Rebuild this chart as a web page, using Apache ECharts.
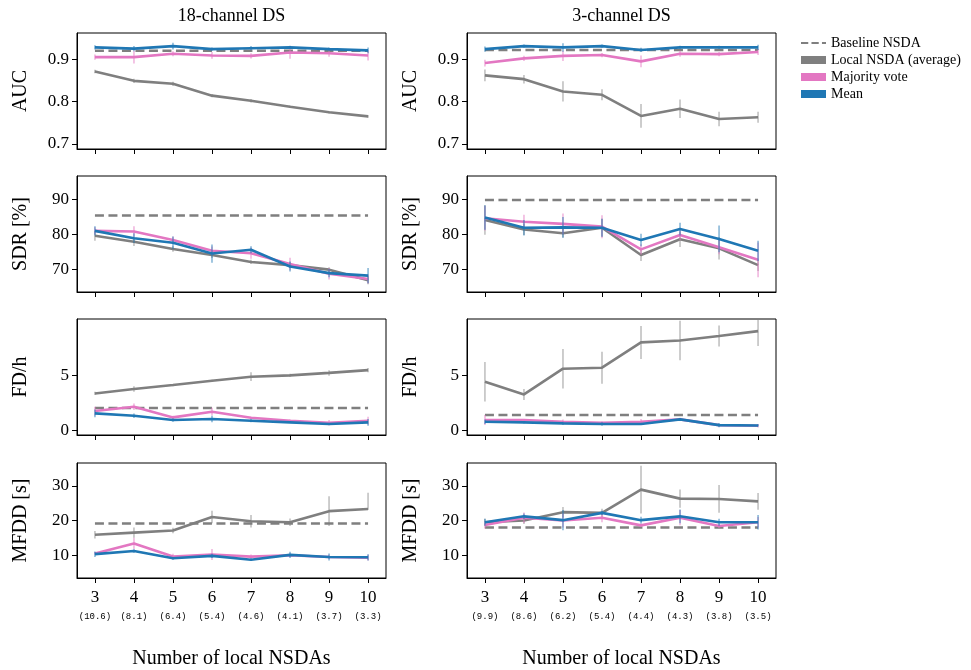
<!DOCTYPE html>
<html>
<head>
<meta charset="utf-8">
<script src="https://cdn.jsdelivr.net/npm/echarts@6/dist/echarts.min.js"></script>
<style>
  html, body { margin: 0; padding: 0; background: #fff; }
  #chart { width: 971px; height: 670px; }
</style>
</head>
<body>
<div id="chart"></div>
<script>
// ---- x categories: number of local NSDAs, with average channels per NSDA ----
const nLocal = [3, 4, 5, 6, 7, 8, 9, 10];
const sub18 = ['(10.6)', '(8.1)', '(6.4)', '(5.4)', '(4.6)', '(4.1)', '(3.7)', '(3.3)'];
const sub3 = ['(9.9)', '(8.6)', '(6.2)', '(5.4)', '(4.4)', '(4.3)', '(3.8)', '(3.5)'];

// Error values are symmetric unless given as [below, above].

// ---- AUC ----
const auc18Baseline = 0.920;
const auc18Local = [0.871, 0.849, 0.842, 0.814, 0.802, 0.788, 0.775, 0.765];
const auc18LocalErr = [0.004, 0.005, 0.005, 0.004, 0.004, 0.003, 0.003, 0.003];
const auc18Vote = [0.905, 0.905, 0.913, 0.909, 0.908, 0.916, 0.914, 0.909];
const auc18VoteErr = [0.006, 0.015, 0.006, 0.008, 0.006, 0.015, 0.008, 0.012];
const auc18Mean = [0.928, 0.925, 0.931, 0.924, 0.926, 0.928, 0.924, 0.921];
const auc18MeanErr = [0.005, 0.006, 0.008, 0.004, 0.005, 0.004, 0.004, 0.007];

const auc3Baseline = 0.922;
const auc3Local = [0.862, 0.853, 0.824, 0.816, 0.766, 0.783, 0.759, 0.763];
const auc3LocalErr = [0.014, 0.010, 0.024, 0.013, 0.028, 0.022, 0.017, 0.013];
const auc3Vote = [0.891, 0.902, 0.908, 0.910, 0.895, 0.913, 0.912, 0.917];
const auc3VoteErr = [0.008, 0.006, 0.012, 0.005, 0.014, 0.007, 0.005, 0.007];
const auc3Mean = [0.924, 0.931, 0.928, 0.931, 0.922, 0.928, 0.928, 0.928];
const auc3MeanErr = [0.006, 0.004, 0.010, 0.004, 0.005, 0.004, 0.004, 0.006];

// ---- SDR [%] ----
const sdr18Baseline = 85.4;
const sdr18Local = [79.6, 77.9, 75.8, 74.1, 72.1, 71.2, 69.9, 66.9];
const sdr18LocalErr = [1.4, 1.2, 0.8, 0.9, 0.6, 0.8, 0.7, 1.2];
const sdr18Vote = [81.0, 80.8, 78.4, 75.3, 74.6, 71.5, 68.7, 67.2];
const sdr18VoteErr = [1.0, 1.5, 1.0, 1.2, 1.6, 1.8, 1.6, 1.3];
const sdr18Mean = [81.0, 78.9, 77.6, 74.5, 75.6, 70.8, 68.9, 68.2];
const sdr18MeanErr = [1.3, 1.4, 1.8, 2.6, 1.0, 1.4, 1.2, 2.2];

const sdr3Baseline = 89.8;
const sdr3Local = [84.1, 81.4, 80.3, 81.9, 74.1, 78.6, 76.0, 71.2];
const sdr3LocalErr = [4.2, 1.6, 1.2, 2.6, 1.7, 2.2, 3.2, 1.7];
const sdr3Vote = [84.6, 83.6, 83.0, 82.2, 75.7, 79.8, 76.3, 72.7];
const sdr3VoteErr = [3.5, 2.0, 3.0, 3.3, 1.5, 1.5, 2.0, 5.0];
const sdr3Mean = [84.8, 81.9, 82.0, 81.9, 78.4, 81.5, 78.7, 75.3];
const sdr3MeanErr = [3.5, 2.2, 3.0, 2.6, 1.8, 1.8, 3.8, 2.9];

// ---- FD/h ----
const fd18Baseline = 2.0;
const fd18Local = [3.33, 3.73, 4.09, 4.48, 4.85, 4.97, 5.20, 5.45];
const fd18LocalErr = [0.15, 0.25, 0.10, 0.10, 0.40, 0.15, 0.25, 0.20];
const fd18Vote = [1.73, 2.12, 1.15, 1.67, 1.12, 0.85, 0.67, 0.85];
const fd18VoteErr = [0.40, 0.30, 0.15, 0.35, 0.10, 0.10, 0.25, 0.35];
const fd18Mean = [1.52, 1.30, 0.91, 1.00, 0.85, 0.70, 0.55, 0.70];
const fd18MeanErr = [0.35, 0.20, 0.15, 0.30, 0.15, 0.05, 0.10, 0.30];

const fd3Baseline = 1.36;
const fd3Local = [4.39, 3.24, 5.58, 5.67, 7.97, 8.15, 8.55, 9.00];
const fd3LocalErr = [1.80, 0.50, 1.80, 1.45, 1.50, 1.80, 0.95, 1.35];
const fd3Vote = [0.91, 0.91, 0.76, 0.67, 0.76, 0.97, 0.45, 0.39];
const fd3VoteErr = [0.45, 0.10, 0.20, 0.10, 0.25, 0.15, 0.10, 0.15];
const fd3Mean = [0.76, 0.70, 0.61, 0.55, 0.55, 0.97, 0.45, 0.42];
const fd3MeanErr = [0.20, 0.10, 0.15, 0.15, 0.10, 0.10, 0.20, 0.10];

// ---- MFDD [s] ----
const mfdd18Baseline = 19.1;
const mfdd18Local = [15.9, 16.5, 17.1, 21.0, 19.8, 19.5, 22.7, 23.3];
const mfdd18LocalErr = [1.1, 1.5, 0.8, 1.8, 1.8, 1.1, 4.3, [0.2, 4.7]];
const mfdd18Vote = [10.5, 13.4, 9.6, 10.2, 9.6, 10.0, 9.5, 9.3];
const mfdd18VoteErr = [0.4, 1.6, 0.8, 1.6, 0.6, 0.5, 0.6, 0.8];
const mfdd18Mean = [10.3, 11.2, 9.1, 9.8, 8.7, 10.1, 9.5, 9.4];
const mfdd18MeanErr = [0.8, 0.5, 0.4, 0.6, 0.4, 0.9, 1.0, 0.9];

const mfdd3Baseline = 18.0;
const mfdd3Local = [19.5, 20.0, 22.4, 22.2, 28.9, 26.3, 26.2, 25.5];
const mfdd3LocalErr = [1.0, 1.0, 1.5, 1.2, 6.9, 2.6, 4.0, 2.4];
const mfdd3Vote = [18.7, 20.8, 20.0, 20.8, 18.6, 20.8, 18.4, 19.5];
const mfdd3VoteErr = [1.0, 1.5, 2.0, 1.3, 0.5, 2.2, 0.6, 1.5];
const mfdd3Mean = [19.5, 21.2, 20.1, 22.2, 20.1, 21.2, 19.5, 19.5];
const mfdd3MeanErr = [1.0, 0.8, 2.9, 0.6, 1.0, 2.0, 1.0, 2.1];

// ---- labels ----
const columnTitles = ['18-channel DS', '3-channel DS'];
const rowNames = ['AUC', 'SDR [%]', 'FD/h', 'MFDD [s]'];
const rowTicks = [[0.7, 0.8, 0.9], [70, 80, 90], [0, 5], [10, 20, 30]];
const xName = 'Number of local NSDAs';
const seriesNames = ['Baseline NSDA', 'Local NSDA (average)', 'Majority vote', 'Mean'];

// panel table: [row][col]
const panels = [
  [
    { base: auc18Baseline, local: auc18Local, localErr: auc18LocalErr, vote: auc18Vote, voteErr: auc18VoteErr, mean: auc18Mean, meanErr: auc18MeanErr },
    { base: auc3Baseline, local: auc3Local, localErr: auc3LocalErr, vote: auc3Vote, voteErr: auc3VoteErr, mean: auc3Mean, meanErr: auc3MeanErr }
  ],
  [
    { base: sdr18Baseline, local: sdr18Local, localErr: sdr18LocalErr, vote: sdr18Vote, voteErr: sdr18VoteErr, mean: sdr18Mean, meanErr: sdr18MeanErr },
    { base: sdr3Baseline, local: sdr3Local, localErr: sdr3LocalErr, vote: sdr3Vote, voteErr: sdr3VoteErr, mean: sdr3Mean, meanErr: sdr3MeanErr }
  ],
  [
    { base: fd18Baseline, local: fd18Local, localErr: fd18LocalErr, vote: fd18Vote, voteErr: fd18VoteErr, mean: fd18Mean, meanErr: fd18MeanErr },
    { base: fd3Baseline, local: fd3Local, localErr: fd3LocalErr, vote: fd3Vote, voteErr: fd3VoteErr, mean: fd3Mean, meanErr: fd3MeanErr }
  ],
  [
    { base: mfdd18Baseline, local: mfdd18Local, localErr: mfdd18LocalErr, vote: mfdd18Vote, voteErr: mfdd18VoteErr, mean: mfdd18Mean, meanErr: mfdd18MeanErr },
    { base: mfdd3Baseline, local: mfdd3Local, localErr: mfdd3LocalErr, vote: mfdd3Vote, voteErr: mfdd3VoteErr, mean: mfdd3Mean, meanErr: mfdd3MeanErr }
  ]
];

// ---- layout & style ----
const SERIF = "'Liberation Serif', 'DejaVu Serif', serif";
const GRAY = '#7f7f7f', PINK = '#e377c2', BLUE = '#1f77b4';
const GRAY_ERR = 'rgba(127,127,127,0.6)', PINK_ERR = 'rgba(227,119,194,0.65)', BLUE_ERR = 'rgba(31,119,180,0.65)';
const colLeft = [77, 467];
const colWidth = 309;
const rowTop = [33, 176, 319, 463];
const rowHeight = 116;
const yRanges = [[0.688, 0.962], [63.5, 96.7], [-0.45, 10.1], [3.43, 36.57]];
const xRange = [2.54, 10.46];
const DASH_ICON = 'path://M0,0h9v2.6h-9z M13,0h9v2.6h-9z M26,0h5v2.6h-5z';

const grids = [], xAxes = [], yAxes = [], series = [];

function errorBarRenderer(color) {
  return function (params, api) {
    const cs = params.coordSys;
    const p1 = api.coord([api.value(0), api.value(1)]);
    const p2 = api.coord([api.value(0), api.value(2)]);
    const top = Math.max(Math.min(p1[1], p2[1]), cs.y);
    const bot = Math.min(Math.max(p1[1], p2[1]), cs.y + cs.height);
    return {
      type: 'line',
      shape: { x1: p1[0], y1: top, x2: p1[0], y2: bot },
      style: { stroke: color, lineWidth: 1.3 }
    };
  };
}

function lineSeries(name, idx, values, color, z, dashed) {
  return {
    type: 'line', name: name, xAxisIndex: idx, yAxisIndex: idx,
    data: nLocal.map((x, i) => [x, Array.isArray(values) ? values[i] : values]),
    symbol: 'none', showSymbol: false, silent: true, animation: false, z: z,
    color: color,
    lineStyle: dashed ? { color: color, width: 2.5, type: [9, 4.5] } : { color: color, width: 2.6 }
  };
}

function errSeries(name, idx, values, errs, color, z) {
  return {
    type: 'custom', name: name + ' err', xAxisIndex: idx, yAxisIndex: idx,
    data: nLocal.map((x, i) => {
      const e = errs[i];
      const down = Array.isArray(e) ? e[0] : e;
      const up = Array.isArray(e) ? e[1] : e;
      return [x, values[i] - down, values[i] + up];
    }),
    encode: { x: 0, y: [1, 2] },
    renderItem: errorBarRenderer(color), silent: true, animation: false, z: z
  };
}

for (let r = 0; r < 4; r++) {
  for (let c = 0; c < 2; c++) {
    const idx = grids.length;
    const p = panels[r][c];
    const subs = c === 0 ? sub18 : sub3;
    const bottomRow = r === 3;
    grids.push({
      left: colLeft[c], top: rowTop[r], width: colWidth, height: rowHeight,
      show: true, borderColor: '#000', borderWidth: 1, backgroundColor: 'transparent'
    });
    xAxes.push({
      type: 'value', gridIndex: idx, min: xRange[0], max: xRange[1],
      axisLine: { show: true, onZero: false, lineStyle: { color: '#000', width: 1 } },
      axisTick: { show: true, length: 5, customValues: nLocal, lineStyle: { color: '#000', width: 1 } },
      splitLine: { show: false },
      axisLabel: {
        show: bottomRow, customValues: nLocal, margin: 9,
        formatter: function (v) {
          const i = nLocal.indexOf(Math.round(v));
          return '{a|' + nLocal[i] + '}\n{b|' + subs[i] + '}';
        },
        rich: {
          a: { fontFamily: SERIF, fontSize: 17, lineHeight: 22, color: '#000' },
          b: { fontFamily: "'Liberation Mono', 'DejaVu Sans Mono', monospace", fontSize: 9, lineHeight: 16, color: '#000' }
        }
      },
      name: bottomRow ? xName : '', nameLocation: 'middle', nameGap: 71,
      nameTextStyle: { fontFamily: SERIF, fontSize: 20, color: '#000' }
    });
    yAxes.push({
      type: 'value', gridIndex: idx, min: yRanges[r][0], max: yRanges[r][1],
      axisLine: { show: true, onZero: false, lineStyle: { color: '#000', width: 1 } },
      axisTick: { show: true, length: 5, customValues: rowTicks[r], lineStyle: { color: '#000', width: 1 } },
      splitLine: { show: false },
      axisLabel: {
        customValues: rowTicks[r], margin: 8,
        fontFamily: SERIF, fontSize: 17, color: '#000',
        formatter: function (v) { return r === 0 ? v.toFixed(1) : String(Math.round(v)); }
      },
      name: rowNames[r], nameLocation: 'middle', nameGap: 46,
      nameTextStyle: { fontFamily: SERIF, fontSize: 20, color: '#000' }
    });
    series.push(lineSeries(seriesNames[0], idx, p.base, GRAY, 2, true));
    series.push(errSeries(seriesNames[1], idx, p.local, p.localErr, GRAY_ERR, 3));
    series.push(lineSeries(seriesNames[1], idx, p.local, GRAY, 4, false));
    series.push(errSeries(seriesNames[2], idx, p.vote, p.voteErr, PINK_ERR, 5));
    series.push(lineSeries(seriesNames[2], idx, p.vote, PINK, 6, false));
    series.push(errSeries(seriesNames[3], idx, p.mean, p.meanErr, BLUE_ERR, 7));
    series.push(lineSeries(seriesNames[3], idx, p.mean, BLUE, 8, false));
  }
}

const chart = echarts.init(document.getElementById('chart'), null, { renderer: 'canvas' });
chart.setOption({
  animation: false,
  backgroundColor: '#fff',
  grid: grids,
  xAxis: xAxes,
  yAxis: yAxes,
  series: series,
  legend: {
    orient: 'vertical', left: 796, top: 31,
    itemWidth: 25, itemHeight: 8, itemGap: 3,
    selectedMode: false,
    textStyle: { fontFamily: SERIF, fontSize: 14, lineHeight: 14, color: '#000' },
    data: [
      { name: seriesNames[0], icon: DASH_ICON },
      { name: seriesNames[1], icon: 'rect' },
      { name: seriesNames[2], icon: 'rect' },
      { name: seriesNames[3], icon: 'rect' }
    ]
  },
  graphic: columnTitles.map((t, c) => ({
    type: 'text', x: colLeft[c] + colWidth / 2, y: 16,
    style: { text: t, fontFamily: SERIF, fontSize: 18, fill: '#000', textAlign: 'center', textVerticalAlign: 'middle' }
  }))
});
</script>
</body>
</html>
